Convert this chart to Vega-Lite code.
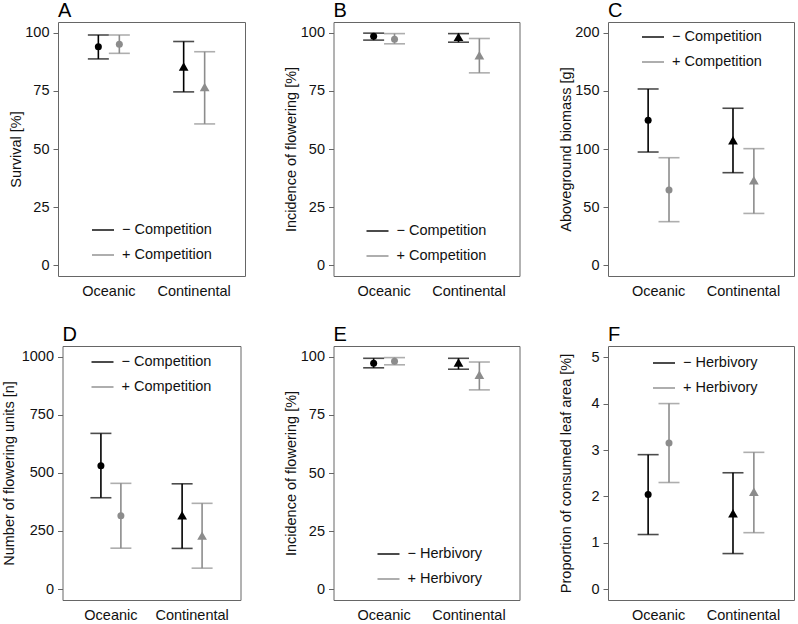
{
  "$schema": "https://vega.github.io/schema/vega-lite/v6.json",
  "padding": 0,
  "datasets": {
    "A": [
      {"region": "Oceanic", "treatment": "−", "mean": 94.0, "lo": 88.8, "hi": 99.1},
      {"region": "Continental", "treatment": "−", "mean": 85.5, "lo": 74.6, "hi": 96.3},
      {"region": "Oceanic", "treatment": "+", "mean": 95.1, "lo": 91.2, "hi": 99.1},
      {"region": "Continental", "treatment": "+", "mean": 76.7, "lo": 60.8, "hi": 91.9}
    ],
    "B": [
      {"region": "Oceanic", "treatment": "−", "mean": 98.6, "lo": 96.9, "hi": 99.9},
      {"region": "Continental", "treatment": "−", "mean": 98.3, "lo": 96.0, "hi": 99.7},
      {"region": "Oceanic", "treatment": "+", "mean": 97.3, "lo": 95.3, "hi": 99.7},
      {"region": "Continental", "treatment": "+", "mean": 90.4, "lo": 82.8, "hi": 97.6}
    ],
    "C": [
      {"region": "Oceanic", "treatment": "−", "mean": 124.7, "lo": 97.4, "hi": 151.7},
      {"region": "Continental", "treatment": "−", "mean": 107.5, "lo": 79.6, "hi": 135.1},
      {"region": "Oceanic", "treatment": "+", "mean": 64.7, "lo": 37.4, "hi": 92.5},
      {"region": "Continental", "treatment": "+", "mean": 73.0, "lo": 44.5, "hi": 100.3}
    ],
    "D": [
      {"region": "Oceanic", "treatment": "−", "mean": 531, "lo": 393, "hi": 670},
      {"region": "Continental", "treatment": "−", "mean": 318, "lo": 175, "hi": 453},
      {"region": "Oceanic", "treatment": "+", "mean": 316, "lo": 176, "hi": 455},
      {"region": "Continental", "treatment": "+", "mean": 230, "lo": 90, "hi": 369}
    ],
    "E": [
      {"region": "Oceanic", "treatment": "−", "mean": 97.3, "lo": 95.3, "hi": 99.4},
      {"region": "Continental", "treatment": "−", "mean": 97.6, "lo": 94.7, "hi": 99.4},
      {"region": "Oceanic", "treatment": "+", "mean": 98.1, "lo": 96.6, "hi": 99.7},
      {"region": "Continental", "treatment": "+", "mean": 92.3, "lo": 85.8, "hi": 97.8}
    ],
    "F": [
      {"region": "Oceanic", "treatment": "−", "mean": 2.04, "lo": 1.18, "hi": 2.90},
      {"region": "Continental", "treatment": "−", "mean": 1.64, "lo": 0.77, "hi": 2.51},
      {"region": "Oceanic", "treatment": "+", "mean": 3.15, "lo": 2.30, "hi": 4.00},
      {"region": "Continental", "treatment": "+", "mean": 2.10, "lo": 1.22, "hi": 2.95}
    ]
  },
  "columns": 3,
  "spacing": {"row": 70, "column": 88.5},
  "align": "each",
  "center": true,
  "bounds": "flush",
  "resolve": {
    "scale": {"color": "independent", "x": "independent", "y": "independent", "xOffset": "independent"},
    "legend": {"color": "independent"}
  },
  "concat": [
    {
      "title": {"text": "A"},
      "width": 187, "height": 254,
      "data": {"name": "A"},
      "encoding": {
        "x": {"field": "region", "type": "nominal", "sort": ["Oceanic", "Continental"], "scale": {"paddingInner": 0.508, "paddingOuter": 0.35}, "axis": {"title": null}},
        "xOffset": {"field": "treatment", "type": "nominal", "sort": ["−", "+"], "scale": {"paddingInner": 0, "paddingOuter": 0}},
        "color": {"field": "treatment", "type": "nominal", "scale": {"domain": ["−", "+"], "range": ["#000000", "#8c8c8c"]}, "legend": {"title": null, "orient": "none", "legendX": 33, "legendY": 196, "labelExpr": "datum.label + ' Competition'"}}
      },
      "layer": [
        {"mark": {"type": "rule", "strokeWidth": 1.6}, "encoding": {"y": {"field": "lo", "type": "quantitative", "scale": {"domain": [-4.7, 104.7], "nice": false, "zero": false}, "axis": {"title": "Survival [%]", "values": [0, 25, 50, 75, 100], "format": "d"}}, "y2": {"field": "hi"}}},
        {"mark": {"type": "tick", "size": 21, "thickness": 1.6}, "encoding": {"y": {"field": "hi", "type": "quantitative", "scale": {"domain": [-4.7, 104.7], "nice": false, "zero": false}}}},
        {"mark": {"type": "tick", "size": 21, "thickness": 1.6}, "encoding": {"y": {"field": "lo", "type": "quantitative", "scale": {"domain": [-4.7, 104.7], "nice": false, "zero": false}}}},
        {"mark": {"type": "point", "filled": true, "opacity": 1}, "encoding": {
          "y": {"field": "mean", "type": "quantitative", "scale": {"domain": [-4.7, 104.7], "nice": false, "zero": false}},
          "shape": {"field": "region", "type": "nominal", "scale": {"domain": ["Oceanic", "Continental"], "range": ["circle", "triangle-up"]}, "legend": null},
          "size": {"field": "region", "type": "ordinal", "scale": {"domain": ["Oceanic", "Continental"], "range": [49, 95]}, "legend": null}
        }}
      ]
    },
    {
      "title": {"text": "B"},
      "width": 186, "height": 254,
      "data": {"name": "B"},
      "encoding": {
        "x": {"field": "region", "type": "nominal", "sort": ["Oceanic", "Continental"], "scale": {"paddingInner": 0.508, "paddingOuter": 0.35}, "axis": {"title": null}},
        "xOffset": {"field": "treatment", "type": "nominal", "sort": ["−", "+"], "scale": {"paddingInner": 0, "paddingOuter": 0}},
        "color": {"field": "treatment", "type": "nominal", "scale": {"domain": ["−", "+"], "range": ["#000000", "#8c8c8c"]}, "legend": {"title": null, "orient": "none", "legendX": 32, "legendY": 197, "labelExpr": "datum.label + ' Competition'"}}
      },
      "layer": [
        {"mark": {"type": "rule", "strokeWidth": 1.6}, "encoding": {"y": {"field": "lo", "type": "quantitative", "scale": {"domain": [-4.7, 104.7], "nice": false, "zero": false}, "axis": {"title": "Incidence of flowering [%]", "values": [0, 25, 50, 75, 100], "format": "d"}}, "y2": {"field": "hi"}}},
        {"mark": {"type": "tick", "size": 21, "thickness": 1.6}, "encoding": {"y": {"field": "hi", "type": "quantitative", "scale": {"domain": [-4.7, 104.7], "nice": false, "zero": false}}}},
        {"mark": {"type": "tick", "size": 21, "thickness": 1.6}, "encoding": {"y": {"field": "lo", "type": "quantitative", "scale": {"domain": [-4.7, 104.7], "nice": false, "zero": false}}}},
        {"mark": {"type": "point", "filled": true, "opacity": 1}, "encoding": {
          "y": {"field": "mean", "type": "quantitative", "scale": {"domain": [-4.7, 104.7], "nice": false, "zero": false}},
          "shape": {"field": "region", "type": "nominal", "scale": {"domain": ["Oceanic", "Continental"], "range": ["circle", "triangle-up"]}, "legend": null},
          "size": {"field": "region", "type": "ordinal", "scale": {"domain": ["Oceanic", "Continental"], "range": [49, 95]}, "legend": null}
        }}
      ]
    },
    {
      "title": {"text": "C"},
      "width": 186, "height": 254,
      "data": {"name": "C"},
      "encoding": {
        "x": {"field": "region", "type": "nominal", "sort": ["Oceanic", "Continental"], "scale": {"paddingInner": 0.508, "paddingOuter": 0.35}, "axis": {"title": null}},
        "xOffset": {"field": "treatment", "type": "nominal", "sort": ["−", "+"], "scale": {"paddingInner": 0, "paddingOuter": 0}},
        "color": {"field": "treatment", "type": "nominal", "scale": {"domain": ["−", "+"], "range": ["#000000", "#8c8c8c"]}, "legend": {"title": null, "orient": "none", "legendX": 33, "legendY": 3, "labelExpr": "datum.label + ' Competition'"}}
      },
      "layer": [
        {"mark": {"type": "rule", "strokeWidth": 1.6}, "encoding": {"y": {"field": "lo", "type": "quantitative", "scale": {"domain": [-9.4, 209.4], "nice": false, "zero": false}, "axis": {"title": "Aboveground biomass [g]", "values": [0, 50, 100, 150, 200], "format": "d"}}, "y2": {"field": "hi"}}},
        {"mark": {"type": "tick", "size": 21, "thickness": 1.6}, "encoding": {"y": {"field": "hi", "type": "quantitative", "scale": {"domain": [-9.4, 209.4], "nice": false, "zero": false}}}},
        {"mark": {"type": "tick", "size": 21, "thickness": 1.6}, "encoding": {"y": {"field": "lo", "type": "quantitative", "scale": {"domain": [-9.4, 209.4], "nice": false, "zero": false}}}},
        {"mark": {"type": "point", "filled": true, "opacity": 1}, "encoding": {
          "y": {"field": "mean", "type": "quantitative", "scale": {"domain": [-9.4, 209.4], "nice": false, "zero": false}},
          "shape": {"field": "region", "type": "nominal", "scale": {"domain": ["Oceanic", "Continental"], "range": ["circle", "triangle-up"]}, "legend": null},
          "size": {"field": "region", "type": "ordinal", "scale": {"domain": ["Oceanic", "Continental"], "range": [49, 95]}, "legend": null}
        }}
      ]
    },
    {
      "title": {"text": "D"},
      "width": 178, "height": 254,
      "data": {"name": "D"},
      "encoding": {
        "x": {"field": "region", "type": "nominal", "sort": ["Oceanic", "Continental"], "scale": {"paddingInner": 0.508, "paddingOuter": 0.35}, "axis": {"title": null}},
        "xOffset": {"field": "treatment", "type": "nominal", "sort": ["−", "+"], "scale": {"paddingInner": 0, "paddingOuter": 0}},
        "color": {"field": "treatment", "type": "nominal", "scale": {"domain": ["−", "+"], "range": ["#000000", "#8c8c8c"]}, "legend": {"title": null, "orient": "none", "legendX": 28, "legendY": 4, "labelExpr": "datum.label + ' Competition'"}}
      },
      "layer": [
        {"mark": {"type": "rule", "strokeWidth": 1.6}, "encoding": {"y": {"field": "lo", "type": "quantitative", "scale": {"domain": [-47, 1046], "nice": false, "zero": false}, "axis": {"title": "Number of flowering units [n]", "values": [0, 250, 500, 750, 1000], "format": "d", "titlePadding": 14.5}}, "y2": {"field": "hi"}}},
        {"mark": {"type": "tick", "size": 21, "thickness": 1.6}, "encoding": {"y": {"field": "hi", "type": "quantitative", "scale": {"domain": [-47, 1046], "nice": false, "zero": false}}}},
        {"mark": {"type": "tick", "size": 21, "thickness": 1.6}, "encoding": {"y": {"field": "lo", "type": "quantitative", "scale": {"domain": [-47, 1046], "nice": false, "zero": false}}}},
        {"mark": {"type": "point", "filled": true, "opacity": 1}, "encoding": {
          "y": {"field": "mean", "type": "quantitative", "scale": {"domain": [-47, 1046], "nice": false, "zero": false}},
          "shape": {"field": "region", "type": "nominal", "scale": {"domain": ["Oceanic", "Continental"], "range": ["circle", "triangle-up"]}, "legend": null},
          "size": {"field": "region", "type": "ordinal", "scale": {"domain": ["Oceanic", "Continental"], "range": [49, 95]}, "legend": null}
        }}
      ]
    },
    {
      "title": {"text": "E"},
      "width": 186, "height": 254,
      "data": {"name": "E"},
      "encoding": {
        "x": {"field": "region", "type": "nominal", "sort": ["Oceanic", "Continental"], "scale": {"paddingInner": 0.508, "paddingOuter": 0.35}, "axis": {"title": null}},
        "xOffset": {"field": "treatment", "type": "nominal", "sort": ["−", "+"], "scale": {"paddingInner": 0, "paddingOuter": 0}},
        "color": {"field": "treatment", "type": "nominal", "scale": {"domain": ["−", "+"], "range": ["#000000", "#8c8c8c"]}, "legend": {"title": null, "orient": "none", "legendX": 43, "legendY": 196, "labelExpr": "datum.label + ' Herbivory'"}}
      },
      "layer": [
        {"mark": {"type": "rule", "strokeWidth": 1.6}, "encoding": {"y": {"field": "lo", "type": "quantitative", "scale": {"domain": [-4.7, 104.7], "nice": false, "zero": false}, "axis": {"title": "Incidence of flowering [%]", "values": [0, 25, 50, 75, 100], "format": "d"}}, "y2": {"field": "hi"}}},
        {"mark": {"type": "tick", "size": 21, "thickness": 1.6}, "encoding": {"y": {"field": "hi", "type": "quantitative", "scale": {"domain": [-4.7, 104.7], "nice": false, "zero": false}}}},
        {"mark": {"type": "tick", "size": 21, "thickness": 1.6}, "encoding": {"y": {"field": "lo", "type": "quantitative", "scale": {"domain": [-4.7, 104.7], "nice": false, "zero": false}}}},
        {"mark": {"type": "point", "filled": true, "opacity": 1}, "encoding": {
          "y": {"field": "mean", "type": "quantitative", "scale": {"domain": [-4.7, 104.7], "nice": false, "zero": false}},
          "shape": {"field": "region", "type": "nominal", "scale": {"domain": ["Oceanic", "Continental"], "range": ["circle", "triangle-up"]}, "legend": null},
          "size": {"field": "region", "type": "ordinal", "scale": {"domain": ["Oceanic", "Continental"], "range": [49, 95]}, "legend": null}
        }}
      ]
    },
    {
      "title": {"text": "F"},
      "width": 186, "height": 254,
      "data": {"name": "F"},
      "encoding": {
        "x": {"field": "region", "type": "nominal", "sort": ["Oceanic", "Continental"], "scale": {"paddingInner": 0.508, "paddingOuter": 0.35}, "axis": {"title": null}},
        "xOffset": {"field": "treatment", "type": "nominal", "sort": ["−", "+"], "scale": {"paddingInner": 0, "paddingOuter": 0}},
        "color": {"field": "treatment", "type": "nominal", "scale": {"domain": ["−", "+"], "range": ["#000000", "#8c8c8c"]}, "legend": {"title": null, "orient": "none", "legendX": 44, "legendY": 5, "labelExpr": "datum.label + ' Herbivory'"}}
      },
      "layer": [
        {"mark": {"type": "rule", "strokeWidth": 1.6}, "encoding": {"y": {"field": "lo", "type": "quantitative", "scale": {"domain": [-0.23, 5.24], "nice": false, "zero": false}, "axis": {"title": "Proportion of consumed leaf area [%]", "values": [0, 1, 2, 3, 4, 5], "format": "d"}}, "y2": {"field": "hi"}}},
        {"mark": {"type": "tick", "size": 21, "thickness": 1.6}, "encoding": {"y": {"field": "hi", "type": "quantitative", "scale": {"domain": [-0.23, 5.24], "nice": false, "zero": false}}}},
        {"mark": {"type": "tick", "size": 21, "thickness": 1.6}, "encoding": {"y": {"field": "lo", "type": "quantitative", "scale": {"domain": [-0.23, 5.24], "nice": false, "zero": false}}}},
        {"mark": {"type": "point", "filled": true, "opacity": 1}, "encoding": {
          "y": {"field": "mean", "type": "quantitative", "scale": {"domain": [-0.23, 5.24], "nice": false, "zero": false}},
          "shape": {"field": "region", "type": "nominal", "scale": {"domain": ["Oceanic", "Continental"], "range": ["circle", "triangle-up"]}, "legend": null},
          "size": {"field": "region", "type": "ordinal", "scale": {"domain": ["Oceanic", "Continental"], "range": [49, 95]}, "legend": null}
        }}
      ]
    }
  ],
  "config": {
    "font": "Liberation Sans",
    "view": {"stroke": "#666666", "strokeWidth": 1},
    "axis": {"grid": false, "domain": false, "labelFontSize": 14.5, "titleFontSize": 14.5, "titleFontWeight": "normal", "labelColor": "#111111", "titleColor": "#111111", "tickColor": "#666666", "tickSize": 5, "tickWidth": 1},
    "axisX": {"ticks": false, "tickSize": 0, "labelPadding": 8, "labelAngle": 0},
    "axisY": {"labelPadding": 4, "minExtent": 32, "maxExtent": 32, "titlePadding": 3},
    "legend": {"symbolType": "stroke", "symbolSize": 484, "symbolStrokeWidth": 2, "labelFontSize": 14.5, "labelColor": "#111111", "rowPadding": 6, "labelOffset": 7, "padding": 0, "direction": "vertical"},
    "title": {"fontSize": 20, "fontWeight": "normal", "anchor": "start", "frame": "group", "offset": 1, "color": "#000000"}
  }
}
